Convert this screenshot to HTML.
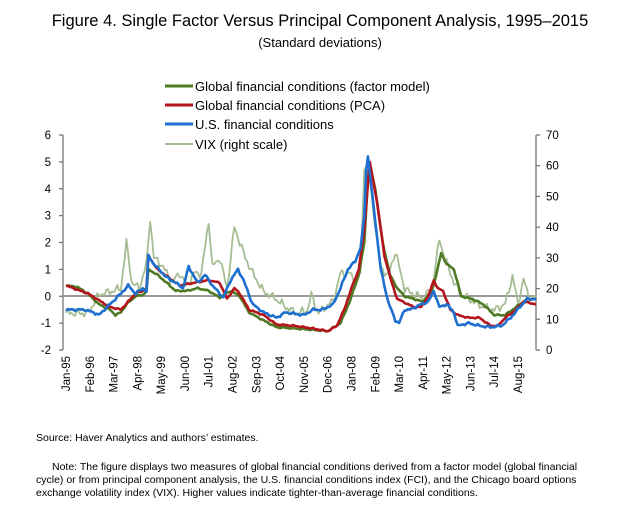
<!DOCTYPE html><html><head><meta charset="utf-8"><style>
body{margin:0;background:#fff;font-family:"Liberation Sans",sans-serif;}
</style></head><body>
<svg id="s" width="640" height="519" xmlns="http://www.w3.org/2000/svg" font-family="Liberation Sans, sans-serif">
<text x="320" y="26" font-size="16.5" text-anchor="middle">Figure 4. Single Factor Versus Principal Component Analysis, 1995–2015</text>
<text x="320" y="47" font-size="13" text-anchor="middle">(Standard deviations)</text>
<g font-size="13">
<line x1="165" y1="86" x2="193" y2="86" stroke="#4e7a23" stroke-width="3"/><text x="195" y="91">Global financial conditions (factor model)</text>
<line x1="165" y1="105" x2="193" y2="105" stroke="#b3151b" stroke-width="3"/><text x="195" y="110">Global financial conditions (PCA)</text>
<line x1="165" y1="124" x2="193" y2="124" stroke="#1d6fd0" stroke-width="3"/><text x="195" y="129">U.S. financial conditions</text>
<line x1="165" y1="144" x2="193" y2="144" stroke="#a6bd94" stroke-width="2"/><text x="195" y="149">VIX (right scale)</text>
</g>
<g id="ax" stroke="#777" stroke-width="1.3" fill="none"></g>
<g id="lab" font-size="11.5"></g>
<line x1="63" y1="296" x2="536" y2="296" stroke="#999" stroke-width="2"/>
<g id="ser" fill="none" stroke-linejoin="round"></g>
<text x="36" y="441" font-size="10.5">Source: Haver Analytics and authors’ estimates.</text>
<g font-size="10.5"><text x="52" y="470">Note: The figure displays two measures of global financial conditions derived from a factor model (global financial</text>
<text x="36" y="483">cycle) or from principal component analysis, the U.S. financial conditions index (FCI), and the Chicago board options</text>
<text x="36" y="496">exchange volatility index (VIX). Higher values indicate tighter-than-average financial conditions.</text></g>
</svg>
<script>
(function(){
var NS="http://www.w3.org/2000/svg";
function el(t,a,p,txt){var e=document.createElementNS(NS,t);for(var k in a)e.setAttribute(k,a[k]);if(txt)e.textContent=txt;document.getElementById(p).appendChild(e);return e;}
var T=135,B=350,L=63,R=536;
function yl(v){return B-(v+2)*(B-T)/8;}
function yr(v){return B-v*(B-T)/70;}
function xm(m){return 66+m*1.83;}
el("line",{x1:L,y1:T,x2:L,y2:B},"ax");el("line",{x1:R,y1:T,x2:R,y2:B},"ax");
for(var v=-2;v<=6;v++){var y=yl(v);el("line",{x1:L-4,y1:y,x2:L,y2:y},"ax");el("text",{x:L-12,y:y+4,"text-anchor":"end"},"lab",String(v));}
for(var v=0;v<=70;v+=10){var y=yr(v);el("line",{x1:R,y1:y,x2:R+4,y2:y},"ax");el("text",{x:R+10,y:y+4},"lab",String(v));}
var labs=["Jan-95","Feb-96","Mar-97","Apr-98","May-99","Jun-00","Jul-01","Aug-02","Sep-03","Oct-04","Nov-05","Dec-06","Jan-08","Feb-09","Mar-10","Apr-11","May-12","Jun-13","Jul-14","Aug-15"];
labs.forEach(function(s,i){var x=xm(i*13)+4;el("text",{x:0,y:0,"text-anchor":"end",transform:"translate("+x+",356) rotate(-90)"},"lab",s);});
function ser(k,f,col,w,noise){var pts=[];for(var m=0;m<=257;m++){var i=0;while(i<k.length-2&&k[i+1][0]<m)i++;var a=k[i],b=k[i+1];var t=Math.max(0,Math.min(1,(m-a[0])/(b[0]-a[0])));var v=a[1]+(b[1]-a[1])*t;v+=noise*(Math.sin(m*2.3+w*7)+Math.sin(m*5.1+1.7*w))/2;pts.push(xm(m).toFixed(1)+","+f(v).toFixed(1));}
el("polyline",{points:pts.join(" "),stroke:col,"stroke-width":w},"ser");}
var vix=[[0,12],[12,12],[18,18],[24,19],[30,20],[33,35],[36,22],[40,20],[44,28],[46,43],[48,30],[52,28],[58,22],[62,25],[66,21],[70,25],[74,25],[78,42],[80,27],[84,30],[88,20],[92,40],[95,35],[98,30],[102,25],[108,19],[114,17],[120,14],[126,12],[132,13],[134,18],[138,12],[146,16],[150,25],[155,25],[158,22],[161,25],[163,60],[165,60],[168,45],[172,27],[176,24],[180,32],[185,20],[190,18],[195,17],[200,20],[204,36],[207,30],[212,22],[216,18],[222,16],[228,14],[234,13],[240,15],[244,24],[247,15],[250,23],[253,17],[257,17]];
var green=[[0,0.4],[6,0.35],[12,0.1],[18,-0.3],[24,-0.5],[27,-0.7],[30,-0.6],[33,-0.3],[38,0],[42,0.05],[44,0.2],[45,1.0],[50,0.8],[55,0.5],[60,0.2],[66,0.2],[72,0.3],[78,0.2],[84,-0.05],[90,0.2],[95,0],[100,-0.6],[108,-0.9],[115,-1.15],[125,-1.2],[135,-1.25],[143,-1.3],[150,-1.0],[155,-0.2],[160,0.8],[163,2.0],[165.5,5.0],[169,4.0],[173,2.0],[177,0.8],[181,0.3],[185,0.0],[190,-0.1],[195,-0.2],[200,0.2],[203,1.0],[205,1.6],[208,1.2],[212,1.0],[216,0.0],[222,-0.1],[228,-0.3],[234,-0.7],[240,-0.7],[246,-0.4],[252,-0.1],[257,-0.1]];
var red=[[0,0.4],[12,0.1],[24,-0.4],[30,-0.5],[38,0.1],[42,0.2],[44,0.3],[45,1.5],[50,1.0],[56,0.7],[62,0.4],[70,0.5],[78,0.6],[84,0.5],[88,-0.1],[92,0.3],[95,0.1],[100,-0.5],[108,-0.7],[115,-1.05],[125,-1.1],[135,-1.2],[143,-1.3],[148,-1.1],[152,-0.5],[156,0.3],[160,1.0],[163,2.5],[166,5.0],[170,3.5],[174,1.5],[178,0.5],[181,-0.1],[184,-0.2],[190,-0.4],[194,-0.4],[198,0.0],[201,0.6],[203,0.3],[206,0.2],[210,-0.5],[214,-0.7],[220,-0.8],[226,-0.8],[232,-1.1],[236,-1.1],[240,-0.8],[246,-0.5],[250,-0.2],[257,-0.3]];
var blue=[[0,-0.5],[10,-0.5],[15,-0.6],[18,-0.7],[24,-0.3],[30,0.1],[34,0.4],[38,0.1],[42,0.3],[44,0.15],[45,1.5],[48,1.2],[55,0.7],[60,0.5],[64,0.3],[67,1.1],[72,0.5],[76,0.8],[80,0.4],[86,-0.05],[90,0.6],[94,1.0],[97,0.6],[102,-0.3],[108,-0.6],[115,-0.8],[120,-0.6],[130,-0.7],[135,-0.5],[140,-0.5],[146,-0.3],[150,0.3],[154,1.0],[158,1.3],[161,1.8],[163,3.0],[164.5,5.5],[166,4.6],[169,2.8],[172,1.0],[176,-0.2],[180,-0.9],[182,-1.0],[185,-0.5],[188,-0.5],[194,-0.3],[198,-0.2],[201,0.2],[204,-0.4],[208,-0.3],[212,-0.6],[214,-1.1],[220,-1.0],[226,-1.1],[232,-1.15],[238,-1.1],[243,-0.8],[248,-0.4],[252,-0.1],[257,-0.1]];
ser(vix,yr,"#a6bd94",1.8,1.5);
ser(green,yl,"#4e7a23",2.6,0.03);
ser(red,yl,"#b3151b",2.6,0.03);
ser(blue,yl,"#1d6fd0",2.6,0.05);
})();
</script>
</body></html>
